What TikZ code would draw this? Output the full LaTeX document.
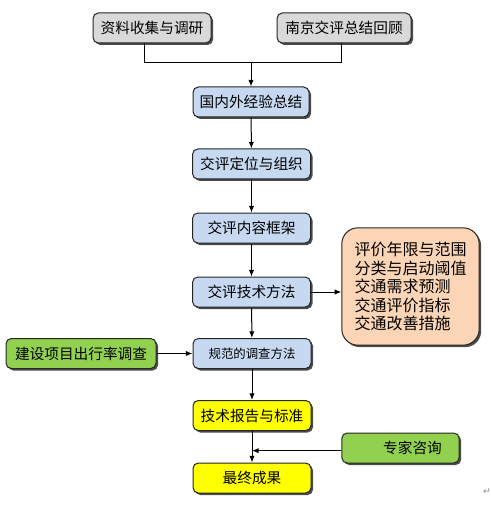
\documentclass[tikz,border=0pt]{standalone}
\usepackage{fontspec}
\setmainfont{Noto Sans CJK SC}
\newfontfamily\markfont{DejaVu Sans}
\usetikzlibrary{arrows.meta,shadows}

\definecolor{boxgray}{RGB}{217,217,217}
\definecolor{boxblue}{RGB}{198,217,241}
\definecolor{boxorange}{RGB}{251,213,181}
\definecolor{boxgreen}{RGB}{146,208,80}
\definecolor{boxyellow}{RGB}{255,255,0}

\tikzset{every picture/.style={line width=0.75pt}}
\tikzset{
  box/.style={draw=black!85, rounded corners=4pt, minimum width=88.5pt, minimum height=22.5pt, inner sep=2pt,
    font=\fontsize{11pt}{13pt}\selectfont,
    drop shadow={shadow xshift=1.5pt, shadow yshift=-1.5pt, fill=black!70, opacity=1}},
  arrow/.style={-{Latex[length=5pt,width=4pt]}}
}

\begin{document}
\begin{tikzpicture}[x=0.75pt,y=0.75pt,yscale=-1,xscale=1]
\useasboundingbox (0,0) rectangle (491,513);

%Shape: Rectangle
\node [box, fill=boxgray] (survey) at (152,28) {资料收集与调研};
%Shape: Rectangle
\node [box, fill=boxgray, minimum width=100.5pt] (review) at (344,28) {南京交评总结回顾};
%Shape: Rectangle
\node [box, fill=boxblue, minimum width=87pt] (summary) at (251,102) {国内外经验总结};
%Shape: Rectangle
\node [box, fill=boxblue] (position) at (251.5,164) {交评定位与组织};
%Shape: Rectangle
\node [box, fill=boxblue] (frame) at (251.5,228) {交评内容框架};
%Shape: Rectangle
\node [box, fill=boxblue] (method) at (251.5,292) {交评技术方法};
%Shape: Rectangle
\node [box, fill=boxorange, rounded corners=12pt, minimum width=103pt, minimum height=88pt, align=left,
  font=\fontsize{12pt}{13.9pt}\selectfont] (scope) at (410.5,286.5)
  {评价年限与范围\\分类与启动阈值\\交通需求预测\\交通评价指标\\交通改善措施};
%Shape: Rectangle
\node [box, fill=boxblue, font=\fontsize{9.3pt}{11pt}\selectfont] (standard) at (252,353.5) {规范的调查方法};
%Shape: Rectangle
\node [box, fill=boxgreen, minimum width=112.5pt] (tripsurvey) at (81,353.5) {建设项目出行率调查};
%Shape: Rectangle
\node [box, fill=boxyellow] (report) at (252,415.5) {技术报告与标准};
%Shape: Rectangle
\node [box, fill=boxyellow] (final) at (252,478) {最终成果};
%Shape: Rectangle
\node [box, fill=boxgreen, minimum width=88pt] (expert) at (400.5,448) {\hspace*{18pt}专家咨询};

% Text Node
\node [text=black!45, font=\markfont\fontsize{7pt}{8pt}\selectfont] (parmark) at (487,492) {↵};

%Straight Lines
\coordinate (join) at (251,63);
\draw ([xshift=-6pt]survey.south) |- (join);
\draw ([xshift=-2pt]review.south) |- (join);
\draw [arrow] (join) -- (summary);
%Straight Lines
\draw [arrow] (summary) -- (position);
\draw [arrow] (position) -- (frame);
\draw [arrow] (frame) -- (method);
\draw [arrow] (method) -- (standard);
\draw [arrow] (standard) -- (report);
\draw [arrow] (report) -- (final);
%Straight Lines
\draw [arrow] (method.east) -- (method.east -| scope.west);
\draw [arrow] (tripsurvey) -- (standard);
\draw [arrow] ([yshift=2pt]expert.west) -- ([yshift=2pt]expert.west -| final.north);

\end{tikzpicture}
\end{document}
